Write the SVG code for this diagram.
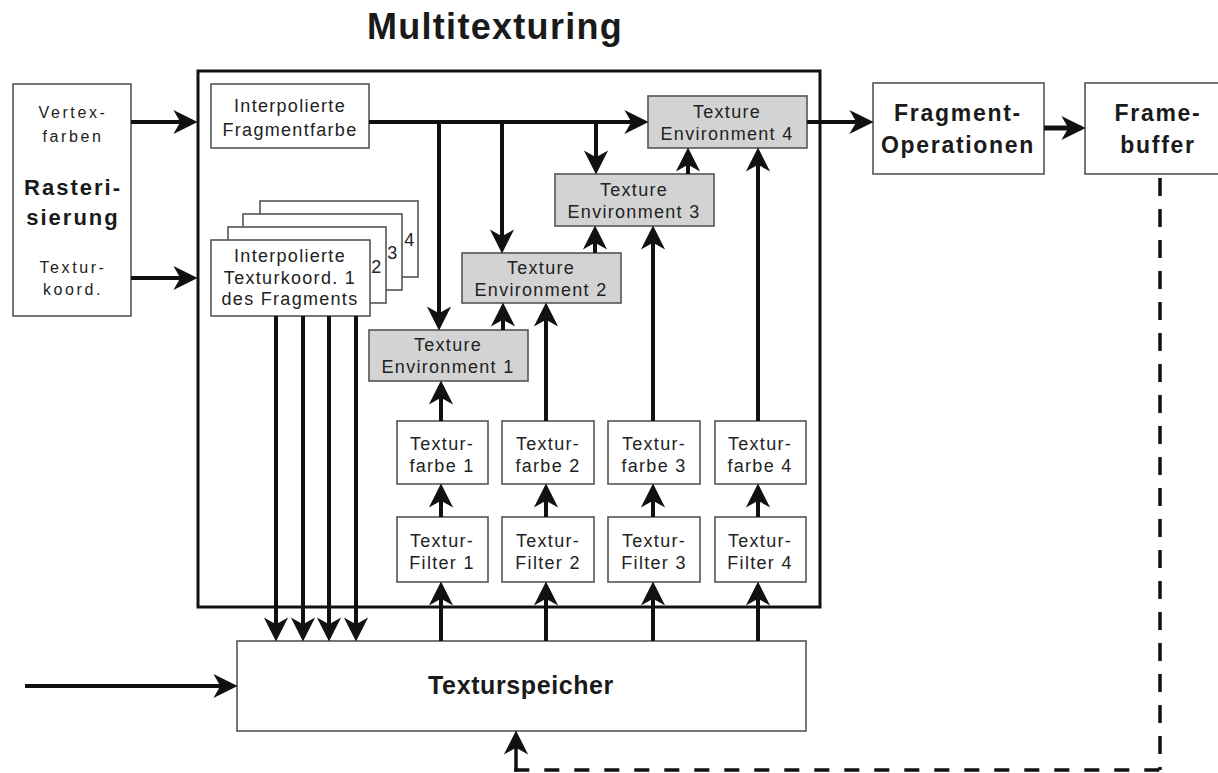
<svg xmlns="http://www.w3.org/2000/svg" width="1218" height="773" viewBox="0 0 1218 773">
<style>
.box{fill:#fff;stroke:#555;stroke-width:1.6}
.env{fill:#d3d3d3;stroke:#555;stroke-width:1.6}
.main{fill:none;stroke:#111;stroke-width:3}
.t{font-family:"Liberation Sans",Arial,sans-serif;font-size:18px;letter-spacing:1.3px;fill:#222;text-anchor:middle}
.s{font-family:"Liberation Sans",Arial,sans-serif;font-size:16px;letter-spacing:2.6px;fill:#222;text-anchor:middle}
.b{font-family:"Liberation Sans",Arial,sans-serif;font-weight:bold;font-size:23px;letter-spacing:1.7px;fill:#1a1a1a;text-anchor:middle}
.c{fill:none;stroke:#111;stroke-width:4;marker-end:url(#ah)}
.l{fill:none;stroke:#111;stroke-width:4}
.d{fill:none;stroke:#111;stroke-width:3.5}
</style>
<defs>
<marker id="ah" markerUnits="userSpaceOnUse" markerWidth="30" markerHeight="30" viewBox="-20 -12 26 24" refX="0" refY="0" orient="auto" overflow="visible">
<path d="M4,0 L-17,-10.5 L-11,0 L-17,10.5 Z" fill="#111"/>
</marker>
</defs>
<rect width="1218" height="773" fill="#fff"/>
<text x="495" y="39" font-family="Liberation Sans,Arial,sans-serif" font-weight="bold" font-size="36" letter-spacing="1.3" fill="#1a1a1a" text-anchor="middle">Multitexturing</text>

<g id="multitexturing-frame"><rect class="main" x="198" y="71" width="622" height="536"/></g>

<g id="rasterisierung">
<rect class="box" x="13" y="84" width="118" height="232"/>
<text class="s" x="73" y="118">Vertex-</text>
<text class="s" x="73" y="142">farben</text>
<text class="b" x="73" y="195" style="font-size:22px;letter-spacing:2px">Rasteri-</text>
<text class="b" x="73" y="225" style="font-size:22px;letter-spacing:2px">sierung</text>
<text class="s" x="73" y="273">Textur-</text>
<text class="s" x="73" y="295">koord.</text>
</g>

<g id="fragmentfarbe">
<rect class="box" x="211" y="84" width="158" height="64"/>
<text class="t" x="290" y="112">Interpolierte</text>
<text class="t" x="290" y="136">Fragmentfarbe</text>
</g>

<g id="texturkoord">
<rect class="box" x="260" y="201" width="158" height="76"/>
<rect class="box" x="243" y="214" width="159" height="76"/>
<rect class="box" x="228" y="227" width="158" height="76"/>
<rect class="box" x="211" y="240" width="159" height="76"/>
<text class="t" x="410" y="246">4</text>
<text class="t" x="393" y="259">3</text>
<text class="t" x="377" y="273">2</text>
<text class="t" x="290" y="262">Interpolierte</text>
<text class="t" x="290" y="284">Texturkoord. 1</text>
<text class="t" x="290" y="305">des Fragments</text>
</g>

<g id="env4"><rect class="env" x="648" y="96" width="159" height="52"/>
<text class="t" x="727" y="118">Texture</text><text class="t" x="727" y="140">Environment 4</text></g>
<g id="env3"><rect class="env" x="555" y="174" width="159" height="52"/>
<text class="t" x="634" y="196">Texture</text><text class="t" x="634" y="218">Environment 3</text></g>
<g id="env2"><rect class="env" x="462" y="253" width="159" height="50"/>
<text class="t" x="541" y="274">Texture</text><text class="t" x="541" y="296">Environment 2</text></g>
<g id="env1"><rect class="env" x="369" y="330" width="159" height="51"/>
<text class="t" x="448" y="351">Texture</text><text class="t" x="448" y="373">Environment 1</text></g>

<g id="farbe1"><rect class="box" x="397" y="421" width="91" height="63"/>
<text class="t" x="442" y="450">Textur-</text><text class="t" x="442" y="472">farbe 1</text></g>
<g id="farbe2"><rect class="box" x="502" y="421" width="92" height="63"/>
<text class="t" x="548" y="450">Textur-</text><text class="t" x="548" y="472">farbe 2</text></g>
<g id="farbe3"><rect class="box" x="608" y="421" width="92" height="63"/>
<text class="t" x="654" y="450">Textur-</text><text class="t" x="654" y="472">farbe 3</text></g>
<g id="farbe4"><rect class="box" x="715" y="421" width="91" height="63"/>
<text class="t" x="760" y="450">Textur-</text><text class="t" x="760" y="472">farbe 4</text></g>

<g id="filter1"><rect class="box" x="397" y="517" width="91" height="65"/>
<text class="t" x="442" y="547">Textur-</text><text class="t" x="442" y="569">Filter 1</text></g>
<g id="filter2"><rect class="box" x="502" y="517" width="92" height="65"/>
<text class="t" x="548" y="547">Textur-</text><text class="t" x="548" y="569">Filter 2</text></g>
<g id="filter3"><rect class="box" x="608" y="517" width="92" height="65"/>
<text class="t" x="654" y="547">Textur-</text><text class="t" x="654" y="569">Filter 3</text></g>
<g id="filter4"><rect class="box" x="715" y="517" width="91" height="65"/>
<text class="t" x="760" y="547">Textur-</text><text class="t" x="760" y="569">Filter 4</text></g>

<g id="fragment-operationen"><rect class="box" x="873" y="83" width="171" height="91"/>
<text class="b" x="958" y="121">Fragment-</text><text class="b" x="958" y="153">Operationen</text></g>

<g id="framebuffer"><rect class="box" x="1085" y="83" width="146" height="91"/>
<text class="b" x="1158" y="121">Frame-</text><text class="b" x="1158" y="153">buffer</text></g>

<g id="texturspeicher"><rect class="box" x="237" y="641" width="569" height="90"/>
<text x="521" y="694" font-family="Liberation Sans,Arial,sans-serif" font-weight="bold" font-size="25" letter-spacing="0.6" fill="#1a1a1a" text-anchor="middle">Texturspeicher</text></g>

<g id="connectors">
<path class="c" d="M131,122 H193"/>
<path class="c" d="M131,278 H193"/>
<path class="c" d="M369,122 H644"/>
<path class="c" d="M439,122 V326"/>
<path class="c" d="M502,122 V249"/>
<path class="c" d="M596,122 V170"/>
<path class="c" d="M503,330 V307"/>
<path class="c" d="M595,253 V230"/>
<path class="c" d="M688,174 V152"/>
<path class="c" d="M441,421 V385"/>
<path class="c" d="M546,421 V307"/>
<path class="c" d="M653,421 V230"/>
<path class="c" d="M758,421 V152"/>
<path class="c" d="M441,517 V488"/>
<path class="c" d="M546,517 V488"/>
<path class="c" d="M653,517 V488"/>
<path class="c" d="M758,517 V488"/>
<path class="c" d="M441,641 V586"/>
<path class="c" d="M546,641 V586"/>
<path class="c" d="M653,641 V586"/>
<path class="c" d="M758,641 V586"/>
<path class="c" d="M276,316 V637"/>
<path class="c" d="M303,316 V637"/>
<path class="c" d="M329,316 V637"/>
<path class="c" d="M356,316 V637"/>
<path class="c" d="M807,122 H869"/>
<path class="c" d="M1044,128 H1081" style="stroke-width:5"/>
<path class="c" d="M25,686 H233"/>
<path class="d" d="M1160,178 V770" stroke-dasharray="18 13"/>
<path class="d" d="M514.3,770 H1160" stroke-dasharray="15 15"/>
<path class="c" d="M516,771.7 V735" style="stroke-width:3.5"/>
</g>
</svg>
